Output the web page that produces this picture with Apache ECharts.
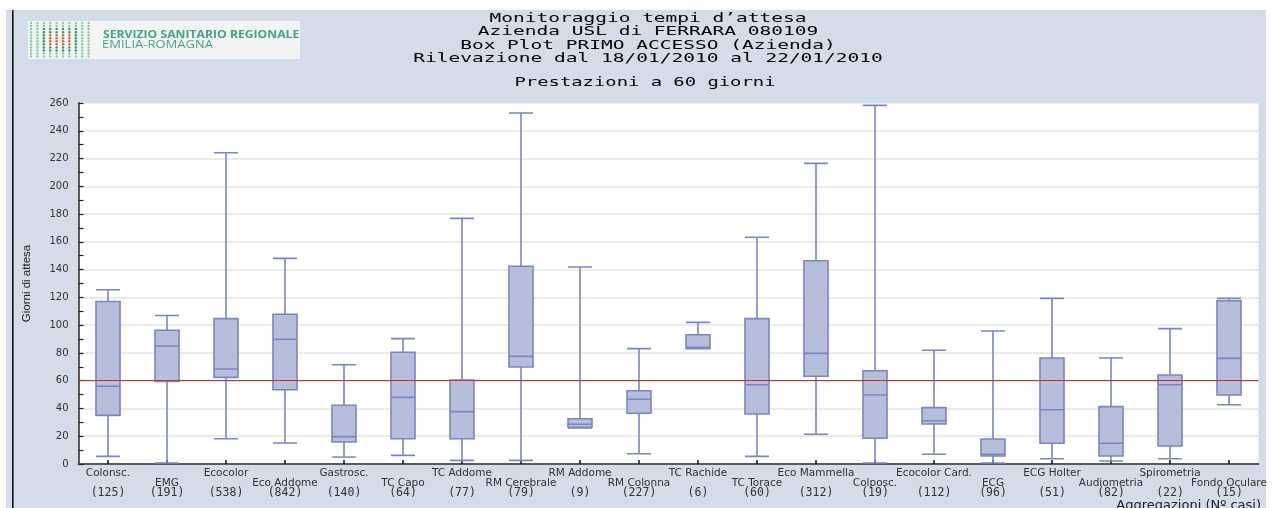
<!DOCTYPE html>
<html>
<head>
<meta charset="utf-8">
<title>Monitoraggio tempi d'attesa - Box Plot</title>
<script src="https://cdn.jsdelivr.net/npm/echarts@6/dist/echarts.min.js"></script>
<style>
  html, body { margin: 0; padding: 0; background: #ffffff; }
  #chart { width: 1273px; height: 508px; }
</style>
</head>
<body>
<div id="chart"></div>
<script>
// Prestazioni monitorate (primo accesso) e numero di casi per aggregazione
const categories = [
  'Colonsc.', 'EMG', 'Ecocolor', 'Eco Addome', 'Gastrosc.', 'TC Capo', 'TC Addome',
  'RM Cerebrale', 'RM Addome', 'RM Colonna', 'TC Rachide', 'TC Torace', 'Eco Mammella',
  'Colposc.', 'Ecocolor Card.', 'ECG', 'ECG Holter', 'Audiometria', 'Spirometria', 'Fondo Oculare'
];
const counts = [125, 191, 538, 842, 140, 64, 77, 79, 9, 227, 6, 60, 312, 19, 112, 96, 51, 82, 22, 15];

// Giorni di attesa: baffo inferiore, primo quartile, mediana, terzo quartile, baffo superiore
const whiskerLow  = [5.5, 0.7, 18.2, 15.1, 5.0, 6.2, 2.6, 2.6, 26, 7.4, 83, 5.5, 21.4, 0.7, 7, 0.7, 3.8, 2.2, 3.8, 42.7];
const quartile1   = [35, 59.5, 62.4, 53.5, 15.8, 18.2, 18.2, 69.9, 26.5, 36.5, 83, 36, 63.2, 18.5, 28.8, 5.8, 14.9, 5.8, 13, 49.7];
const medians     = [56, 85, 68.4, 89.8, 19.7, 48, 37.7, 77.5, 28.6, 46.6, 84, 57.1, 79.7, 49.7, 31.2, 7, 39.1, 14.9, 57.1, 76.1];
const quartile3   = [117, 96.3, 104.7, 107.8, 42.3, 80.5, 60.5, 142.4, 32.6, 52.8, 93.1, 104.7, 146.4, 67.2, 40.6, 18, 76.3, 41.3, 64.1, 117.6];
const whiskerHigh = [125.5, 107, 224.2, 148.1, 71.5, 90.3, 176.9, 252.8, 141.9, 83.1, 102, 163.3, 216.5, 258.3, 81.9, 95.8, 119.3, 76.3, 97.5, 119.3];

// Soglia di riferimento (60 giorni)
const threshold = 60;

const titleLines = [
  'Monitoraggio tempi d\u2019attesa',
  'Azienda USL di FERRARA 080109',
  'Box Plot PRIMO ACCESSO (Azienda)',
  'Rilevazione dal 18/01/2010 al 22/01/2010'
];
const subTitle = 'Prestazioni a 60 giorni';

const boxData = categories.map((_, i) => [
  whiskerLow[i], quartile1[i], medians[i], quartile3[i], whiskerHigh[i]
]);

// Logo: griglia di punti della Regione
const logoDots = [];
const cols = 10, rows = 12;
for (let r = 0; r < rows; r++) {
  for (let c = 0; c < cols; c++) {
    const dx = Math.abs(c - 4.5), dy = Math.abs(r - 5.5);
    let color = '#8ccfa8';
    if (dx < 3 && dy < 4.5) color = '#2f9e6c';
    if (dx < 2 && dy < 2.5) color = '#ec5f36';
    logoDots.push({
      type: 'circle',
      shape: { cx: 31 + c * 6.4, cy: 23 + r * 3.05, r: 1.25 },
      style: { fill: color },
      silent: true
    });
  }
}

const mono = '"DejaVu Sans Mono", "Liberation Mono", monospace';
const titleGraphics = titleLines.map((t, i) => ({
  type: 'text',
  x: 648, y: 18.5 + i * 13.4,
  scaleX: 1.5,
  style: { text: t, font: '13px ' + mono, fill: '#000', textAlign: 'center', textVerticalAlign: 'middle' },
  silent: true
}));
titleGraphics.push({
  type: 'text',
  x: 645, y: 83,
  scaleX: 1.45,
  style: { text: subTitle, font: '13px ' + mono, fill: '#000', textAlign: 'center', textVerticalAlign: 'middle' },
  silent: true
});

const chart = echarts.init(document.getElementById('chart'), null, { renderer: 'canvas' });

chart.setOption({
  backgroundColor: '#ffffff',
  animation: false,
  graphic: [
    { type: 'rect', z: -20, shape: { x: 6, y: 10, width: 1260, height: 498 }, style: { fill: '#d3dce8' }, silent: true },
    { type: 'rect', z: -19, shape: { x: 12, y: 10, width: 1.6, height: 498 }, style: { fill: '#111' }, silent: true },
    { type: 'rect', z: -19, shape: { x: 28, y: 21, width: 272, height: 38 }, style: { fill: '#f3f5f5' }, silent: true },
    ...logoDots,
    { type: 'text', x: 103, y: 35, scaleX: 1.16, silent: true,
      style: { text: 'SERVIZIO SANITARIO REGIONALE', font: 'bold 10.5px "Open Sans", "DejaVu Sans", sans-serif', fill: '#3ea77c', textVerticalAlign: 'middle' } },
    { type: 'text', x: 102, y: 45.5, scaleX: 1.24, silent: true,
      style: { text: 'EMILIA-ROMAGNA', font: '10.5px "Open Sans", "DejaVu Sans", sans-serif', fill: '#3ea77c', textVerticalAlign: 'middle' } },
    ...titleGraphics,
    { type: 'text', x: 1261, y: 499, silent: true,
      style: { text: 'Aggregazioni (N\u00BA casi)', font: '13px "DejaVu Sans", sans-serif', fill: '#222', textAlign: 'right', textVerticalAlign: 'top' } }
  ],
  grid: {
    left: 78.5, right: 14.5, top: 103, bottom: 44,
    show: true, backgroundColor: '#ffffff', borderWidth: 0
  },
  xAxis: {
    type: 'category',
    data: categories,
    boundaryGap: true,
    axisLine: { lineStyle: { color: '#5a5a5a', width: 2 } },
    axisTick: { show: true, inside: true, alignWithLabel: true, length: 4, lineStyle: { color: '#111', width: 1.5 } },
    splitLine: { show: false },
    axisLabel: {
      interval: 0,
      margin: 4,
      lineHeight: 10,
      color: '#333',
      fontFamily: '"DejaVu Sans", sans-serif',
      fontSize: 10,
      formatter: (value, idx) => {
        const name = '{n|' + value + '}';
        const cnt = '{c|(' + counts[idx] + ')}';
        return idx % 2 === 0 ? name + '\n{e| }\n' + cnt : '{e| }\n' + name + '\n' + cnt;
      },
      rich: {
        n: { fontFamily: '"DejaVu Sans", sans-serif', fontSize: 10.5, color: '#333', lineHeight: 10 },
        c: { fontFamily: mono, fontSize: 11.5, color: '#333', lineHeight: 10 },
        e: { fontSize: 10, lineHeight: 10 }
      }
    }
  },
  yAxis: {
    type: 'value',
    min: 0, max: 260, interval: 20,
    name: 'Giorni di attesa',
    nameLocation: 'middle',
    nameGap: 46,
    nameRotate: 90,
    nameTextStyle: { fontFamily: '"Liberation Sans", Arial, sans-serif', fontSize: 11.5, color: '#222' },
    axisLine: { show: true, lineStyle: { color: '#5a5a5a', width: 2 } },
    axisTick: { show: true, inside: true, length: 5, lineStyle: { color: '#222', width: 1.2 } },
    minorTick: { show: true, splitNumber: 2, length: 5, lineStyle: { color: '#222', width: 1.2 } },
    splitLine: { show: true, lineStyle: { color: '#e4e4e4', width: 1.5 } },
    axisLabel: { margin: 10, color: '#333', fontFamily: '"DejaVu Sans", sans-serif', fontSize: 10 }
  },
  series: [{
    type: 'boxplot',
    data: boxData,
    boxWidth: [24, 24],
    itemStyle: { color: '#b7bedc', borderColor: '#7986c3', borderWidth: 1.6 },
    markLine: {
      silent: true,
      symbol: 'none',
      label: { show: false },
      lineStyle: { color: '#e02424', width: 1.2, type: 'solid' },
      data: [{ yAxis: threshold }]
    }
  }]
});
</script>
</body>
</html>
